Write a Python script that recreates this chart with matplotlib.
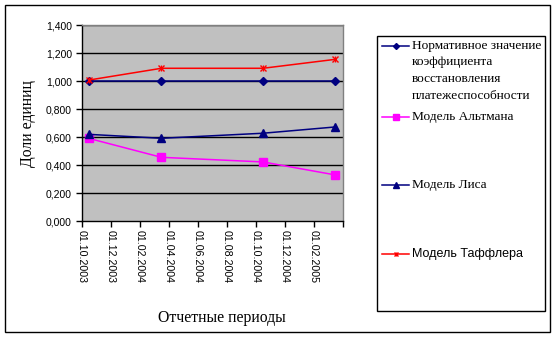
import matplotlib
matplotlib.use("Agg")
import matplotlib.pyplot as plt
from matplotlib.lines import Line2D
from matplotlib.patches import Rectangle
from matplotlib.ticker import FuncFormatter, FixedLocator
import matplotlib.transforms as mtransforms

# Reporting periods (monthly base unit) and model values
periods = ["01.10.2003", "01.03.2004", "01.10.2004", "01.03.2005"]
normative = [1.000, 1.000, 1.000, 1.000]
altman = [0.592, 0.457, 0.424, 0.331]
lis = [0.621, 0.593, 0.629, 0.674]
taffler = [1.009, 1.093, 1.093, 1.157]

tick_labels = ["01.10.2003", "01.12.2003", "01.02.2004", "01.04.2004",
               "01.06.2004", "01.08.2004", "01.10.2004", "01.12.2004",
               "01.02.2005"]
axis_end = "01.04.2005"

series_names = [
    "Нормативное значение\nкоэффициента\nвосстановления\nплатежеспособности",
    "Модель Альтмана",
    "Модель Лиса",
    "Модель Таффлера",
]

START = "01.10.2003"


def month_index(s):
    d, m, y = (int(p) for p in s.split("."))
    d0, m0, y0 = (int(p) for p in START.split("."))
    return (y - y0) * 12 + (m - m0)


# points sit in the middle of their month
xs = [month_index(p) + 0.5 for p in periods]

W, H = 557, 339
fig = plt.figure(figsize=(W / 100, H / 100), dpi=100)
fig.patch.set_facecolor("white")


def px_box(x0, y0, x1, y1):
    return [x0 / W, 1 - y1 / H, (x1 - x0) / W, (y1 - y0) / H]


ax = fig.add_axes(px_box(81.7, 25.3, 342.7, 221.3))
ax.set_facecolor("#C0C0C0")

navy = "#000080"
magenta = "#FF00FF"
red = "#FF0000"

styles = [
    dict(color=navy, marker="D", markersize=4.2, markerfacecolor=navy, markeredgecolor=navy),
    dict(color=magenta, marker="s", markersize=5.2, markerfacecolor=magenta, markeredgecolor=magenta),
    dict(color=navy, marker="^", markersize=5.8, markerfacecolor=navy, markeredgecolor=navy),
    dict(color=red, marker="x", markersize=4.5, markeredgewidth=1.0),
]

for vals, st in zip([normative, altman, lis, taffler], styles):
    ax.plot(xs, vals, linewidth=1.1, zorder=3, clip_on=False, **st)
# Taffler marker has a vertical stroke as well
ax.plot(xs, taffler, linestyle="none", marker="|", markersize=4.5,
        color=red, markeredgewidth=1.0, zorder=3, clip_on=False)

ax.set_xlim(0, month_index(axis_end))
ax.set_ylim(0, 1.4)

yt = [i * 0.2 for i in range(8)]
ax.yaxis.set_major_locator(FixedLocator(yt))
ax.yaxis.set_major_formatter(FuncFormatter(lambda v, p: f"{v:.3f}".replace(".", ",")))
for v in yt[1:]:
    ax.axhline(v, color="black", linewidth=1.0, zorder=1)

xt = [month_index(t) for t in tick_labels] + [month_index(axis_end)]
ax.set_xticks(xt)
ax.set_xticklabels(tick_labels + [""])

for lab in ax.get_yticklabels():
    lab.set_fontfamily("Liberation Sans")
    lab.set_fontsize(7.5)
offset = mtransforms.ScaledTranslation(6 / 100, 0, fig.dpi_scale_trans)
for lab in ax.get_xticklabels():
    lab.set_fontfamily("Liberation Sans")
    lab.set_fontsize(7.7)
    lab.set_rotation(-90)
    lab.set_ha("center")
    lab.set_va("top")
    lab.set_transform(lab.get_transform() + offset)

ax.tick_params(axis="both", direction="out", length=4, width=1, color="black",
               labelcolor="black")
ax.tick_params(axis="y", pad=3)
ax.tick_params(axis="x", pad=2)

for side in ["left", "bottom"]:
    ax.spines[side].set_color("black")
    ax.spines[side].set_linewidth(1)
for side in ["top", "right"]:
    ax.spines[side].set_color("#808080")
    ax.spines[side].set_linewidth(1)

# axis titles
fig.text(28 / W, 1 - 124 / H, "Доли единиц", rotation=90, ha="center", va="center",
         family="Liberation Serif", fontsize=11.3)
fig.text(222 / W, 1 - 318 / H, "Отчетные периоды", ha="center", va="center",
         family="Liberation Serif", fontsize=11.3)

# chart frame
fig.add_artist(Rectangle((5 / W, 1 - 332 / H), 545 / W, 327 / H, transform=fig.transFigure,
                         fill=False, edgecolor="black", linewidth=1))

# legend box
fig.add_artist(Rectangle((377.3 / W, 1 - 310.7 / H), 168 / W, 274.7 / H,
                         transform=fig.transFigure, fill=False, edgecolor="black", linewidth=1))

legend_rows = [45.7, 117, 185, 254]
legend_fonts = ["Liberation Serif", "Liberation Serif", "Liberation Serif", "Liberation Sans"]
legend_sizes = [9.6, 9.6, 9.6, 9.0]
for name, st, ry, fam, fs in zip(series_names, styles, legend_rows, legend_fonts, legend_sizes):
    yf = 1 - ry / H
    fig.add_artist(Line2D([382.3 / W, 409.3 / W], [yf, yf], transform=fig.transFigure,
                          color=st["color"], linewidth=1.1))
    mk = {k: v for k, v in st.items() if k not in ("color", "markersize")}
    fig.add_artist(Line2D([396 / W], [yf], transform=fig.transFigure, linestyle="none",
                          color=st["color"], markersize=st["markersize"] * 0.72, **mk))
    if st["marker"] == "x":
        fig.add_artist(Line2D([396 / W], [yf], transform=fig.transFigure, linestyle="none",
                              color=st["color"], marker="|", markersize=3.3,
                              markeredgewidth=1.0))
    for i, line in enumerate(name.split("\n")):
        fig.text(412 / W, 1 - (ry + i * 16.7) / H, line, ha="left", va="center",
                 family=fam, fontsize=fs, color="black")

fig.savefig("out.png", dpi=100, facecolor="white")
